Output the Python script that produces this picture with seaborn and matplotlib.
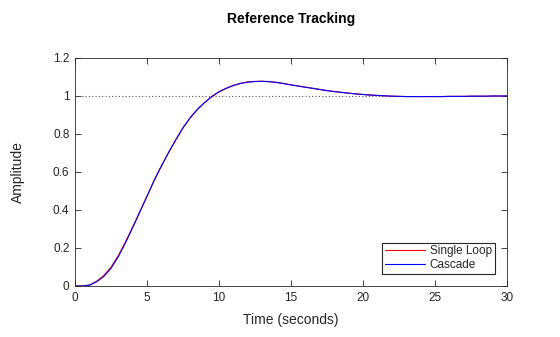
import matplotlib
matplotlib.use("Agg")
import matplotlib.pyplot as plt
import seaborn as sns
import pandas as pd

time_s = [0, 0.5, 1.0, 1.5, 2.0, 2.5, 3.0, 3.5, 4.0, 4.5, 5.0, 5.5, 6.0, 6.5, 7.0, 7.5,
          8.0, 8.5, 9.0, 9.5, 10.0, 10.5, 11.0, 11.5, 12.0, 12.5, 13.0, 13.5, 14.0, 14.5,
          15.0, 15.5, 16.0, 16.5, 17.0, 17.5, 18.0, 18.5, 19.0, 19.5, 20.0, 20.5, 21.0,
          21.5, 22.0, 22.5, 23.0, 23.5, 24.0, 24.5, 25.0, 25.5, 26.0, 26.5, 27.0, 27.5,
          28.0, 28.5, 29.0, 29.5, 30.0]

single_loop = [0, 0, 0.005, 0.025, 0.055, 0.099, 0.159, 0.231, 0.310, 0.391, 0.473, 0.556,
               0.631, 0.702, 0.769, 0.832, 0.885, 0.929, 0.965, 0.997, 1.022, 1.041, 1.056,
               1.067, 1.074, 1.077, 1.078, 1.076, 1.072, 1.066, 1.059, 1.053, 1.047, 1.041,
               1.035, 1.029, 1.024, 1.019, 1.015, 1.011, 1.008, 1.005, 1.003, 1.001, 0.999,
               0.998, 0.997, 0.997, 0.997, 0.997, 0.997, 0.997, 0.998, 0.998, 0.998, 0.999,
               0.999, 0.999, 1.000, 1.000, 1.000]

cascade = [0, 0, 0.004, 0.022, 0.050, 0.093, 0.153, 0.226, 0.306, 0.389, 0.472, 0.556,
           0.632, 0.703, 0.770, 0.833, 0.886, 0.930, 0.966, 0.997, 1.022, 1.040, 1.055,
           1.066, 1.073, 1.076, 1.077, 1.075, 1.071, 1.065, 1.058, 1.052, 1.046, 1.040,
           1.034, 1.028, 1.023, 1.019, 1.015, 1.011, 1.008, 1.005, 1.003, 1.001, 0.999,
           0.998, 0.997, 0.997, 0.997, 0.997, 0.997, 0.997, 0.998, 0.998, 0.998, 0.999,
           0.999, 0.999, 1.000, 1.000, 1.000]

series_names = ["Single Loop", "Cascade"]
series_colors = ["#ff0000", "#0000ff"]
x_ticks = [0, 5, 10, 15, 20, 25, 30]
y_ticks = [0, 0.2, 0.4, 0.6, 0.8, 1.0, 1.2]
y_tick_labels = ["0", "0.2", "0.4", "0.6", "0.8", "1", "1.2"]

sns.set_theme(style="white")
plt.rcParams["font.family"] = ["Liberation Sans", "DejaVu Sans"]

df = pd.DataFrame({
    "Time": time_s * 2,
    "Amplitude": single_loop + cascade,
    "Series": [series_names[0]] * len(time_s) + [series_names[1]] * len(time_s),
})

fig = plt.figure(figsize=(5.6, 3.37), dpi=100)
ax = fig.add_axes([75 / 560, 1 - 286 / 337, (507 - 75) / 560, (286 - 58) / 337])

ax.axhline(1.0, color="#555555", linestyle=(0, (1, 2)), linewidth=0.8, zorder=1)
sns.lineplot(data=df, x="Time", y="Amplitude", hue="Series", hue_order=series_names,
             palette=series_colors, linewidth=0.8, ax=ax, legend=True, zorder=2)

ax.set_xlim(0, 30)
ax.set_ylim(0, 1.2)
ax.set_xticks(x_ticks)
ax.set_xticklabels([str(t) for t in x_ticks])
ax.set_yticks(y_ticks)
ax.set_yticklabels(y_tick_labels)
ax.tick_params(direction="in", length=4, width=0.6, colors="#262626", labelsize=8.5,
               top=True, right=True, bottom=True, left=True, pad=4)
for s in ax.spines.values():
    s.set_color("#262626")
    s.set_linewidth(0.6)

ax.set_xlabel("Time (seconds)", fontsize=10, color="#262626", labelpad=7)
ax.set_ylabel("Amplitude", fontsize=10, color="#262626", labelpad=20)
ax.set_title("Reference Tracking", fontsize=10, fontweight="bold", color="#000000", pad=25)

leg = ax.legend(loc="lower right", fontsize=8.5, frameon=True, fancybox=False,
                edgecolor="#262626", framealpha=1, borderpad=0.25, handlelength=3.4,
                handletextpad=0.4, labelspacing=0.1, borderaxespad=1.05)
leg.get_frame().set_linewidth(0.8)

fig.savefig("out.png", dpi=100, facecolor="white")
